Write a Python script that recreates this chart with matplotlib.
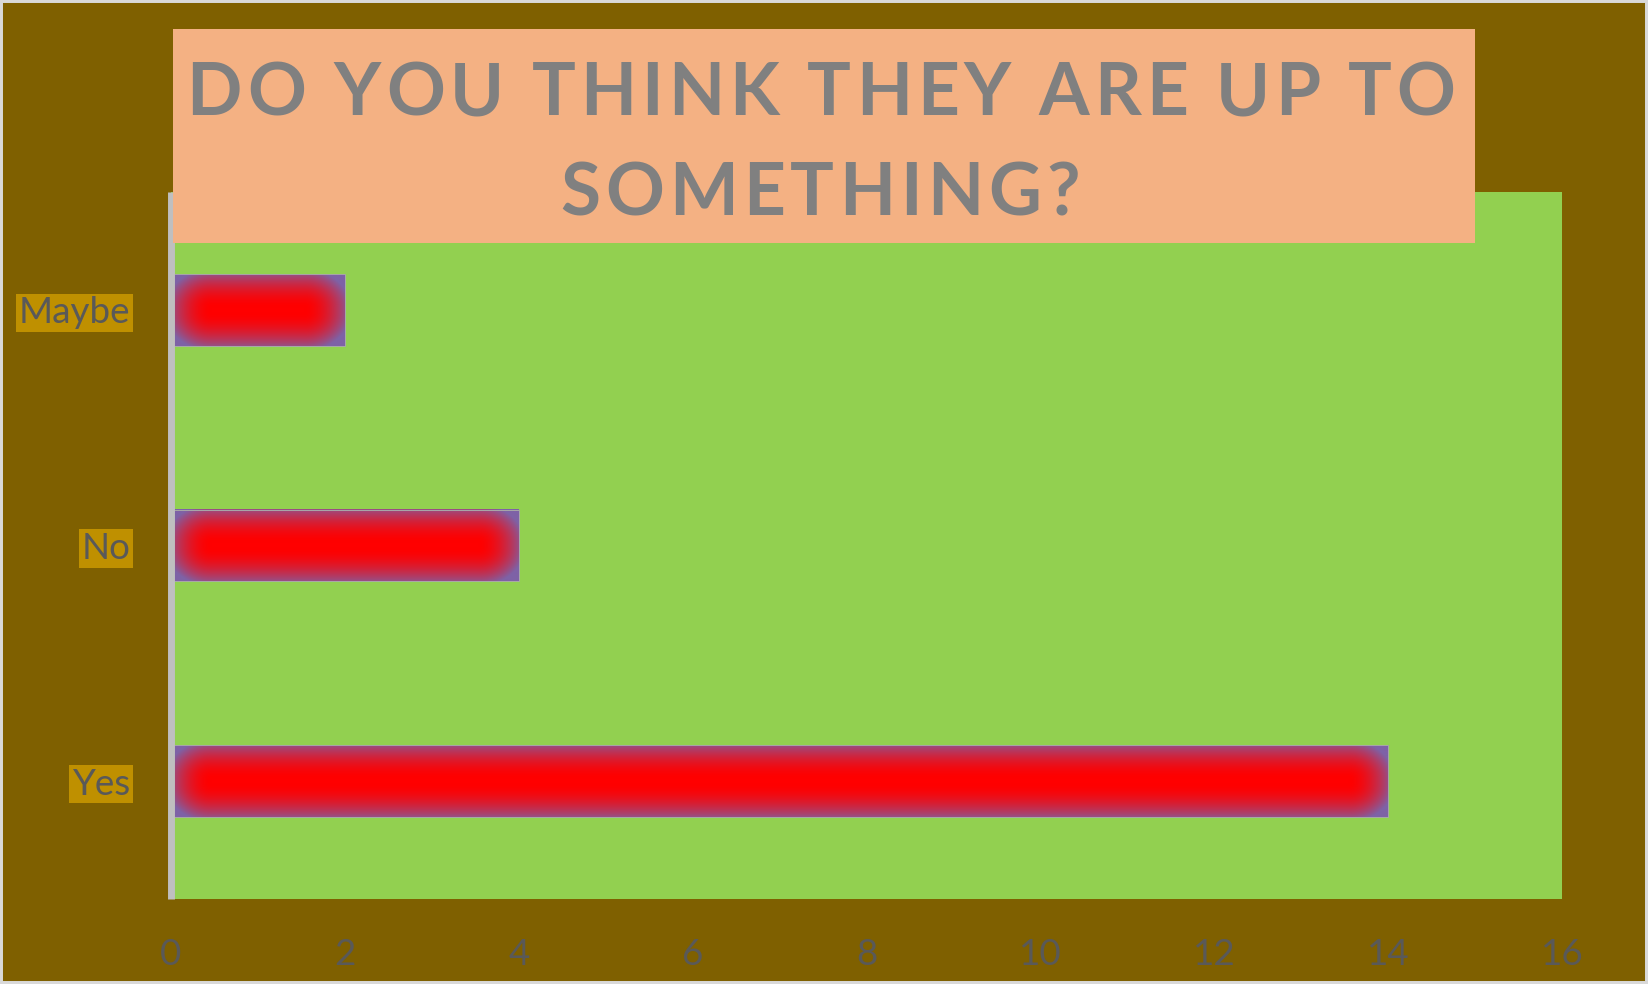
"""
Horizontal bar chart: "Do you think they are up to something?"

Output: out.png (1648x984)
"""
import numpy as np
import matplotlib
matplotlib.use("Agg")
import matplotlib.pyplot as plt
from matplotlib.patches import Rectangle
from matplotlib.font_manager import FontProperties
from matplotlib.colors import to_rgb

# data
categories = ["Yes", "No", "Maybe"]
counts = [14, 4, 2]
x_ticks = list(range(0, 17, 2))
title_lines = ["DO YOU THINK THEY ARE UP TO", "SOMETHING?"]

W, H, DPI = 1648, 984, 100
BG = "#7F6000"
PLOT_BG = "#92D050"
TITLE_BG = "#F4B183"
LABEL_BG = "#BF9000"
TEXT = "#595959"
TITLE_C = "#808080"
BAR_MID = np.array(to_rgb("#FF0000"))
BAR_EDGE = np.array(to_rgb("#7E62A6"))

plt.rcParams["font.family"] = ["Lato", "DejaVu Sans"]


def soft_bar(ax, patch, glow_x=40, glow_y=33):
    """Fill a bar patch with a red core fading to purple at the edges."""
    x0, y0 = patch.get_x(), patch.get_y()
    x1, y1 = x0 + patch.get_width(), y0 + patch.get_height()
    (px0, py0), (px1, py1) = ax.transData.transform([(x0, y0), (x1, y1)])
    nc, nr = max(int(px1 - px0), 2), max(int(py1 - py0), 2)
    cx = np.arange(nc) + 0.5
    cy = np.arange(nr) + 0.5
    ux = 1 - np.clip(np.minimum(cx, nc - cx) / glow_x, 0, 1)
    uy = 1 - np.clip(np.minimum(cy, nr - cy) / glow_y, 0, 1)
    r = np.sqrt(ux[None, :] ** 2 + uy[:, None] ** 2) / np.sqrt(2) * 1.25
    p = np.clip(r, 0, 1) ** 1.8
    img = BAR_MID + (BAR_EDGE - BAR_MID) * p[..., None]
    ax.imshow(img, extent=(x0, x1, y0, y1), origin="lower", aspect="auto",
              interpolation="bilinear", zorder=2, clip_path=patch)


def char_widths(fig, text, prop):
    renderer = fig.canvas.get_renderer()
    base = renderer.get_text_width_height_descent("HH", prop, ismath=False)[0]
    return [renderer.get_text_width_height_descent("H" + ch + "H", prop, ismath=False)[0] - base
            for ch in text]


def tracked_text(fig, text, xc, y_base, prop, track):
    """Draw text centred at xc (px) with extra letter spacing (px)."""
    widths = char_widths(fig, text, prop)
    total = sum(widths) + track * (len(text) - 1)
    x = xc - total / 2
    for ch, wch in zip(text, widths):
        fig.text(x / W, 1 - y_base / H, ch, fontproperties=prop, color=TITLE_C,
                 ha="left", va="baseline", zorder=6)
        x += wch + track


fig = plt.figure(figsize=(W / DPI, H / DPI), dpi=DPI, facecolor=BG)
ax = fig.add_axes([171 / W, 1 - 899 / H, (1562 - 171) / W, (899 - 192) / H])
ax.set_facecolor(PLOT_BG)

bars = ax.barh(categories, counts, height=0.305, color="none",
               edgecolor="#A8A8A8", linewidth=0.7, zorder=3)
ax.set_xlim(0, 16)
ax.set_ylim(-0.5, 2.5)
for p in bars.patches:
    soft_bar(ax, p)
ax.set_xlim(0, 16)
ax.set_ylim(-0.5, 2.5)

ax.set_xticks(x_ticks)
for s in ["top", "right", "bottom"]:
    ax.spines[s].set_visible(False)
ax.spines["left"].set_color("#BFBFBF")
ax.spines["left"].set_linewidth(5)
ax.spines["left"].set_capstyle("butt")
ax.spines["left"].set_zorder(4)

ax.tick_params(axis="y", length=0, pad=29.5, labelsize=26.5, labelcolor=TEXT)
ax.tick_params(axis="x", length=0, pad=28, labelsize=26.5, labelcolor=TEXT)
for lbl in ax.get_yticklabels():
    lbl.set_bbox(dict(boxstyle="square,pad=0.07", fc=LABEL_BG, ec="none"))

# title box
fig.patches.append(Rectangle((173 / W, 1 - 243 / H), (1475 - 173) / W, (243 - 29) / H,
                             transform=fig.transFigure, fc=TITLE_BG, ec="none", zorder=5))
# letter spacing chosen so the first line spans the box like the original
title_prop = FontProperties(family="Lato", weight="bold", size=52.5)
raw = sum(char_widths(fig, title_lines[0], title_prop))
track = (1269 - raw) / (len(title_lines[0]) - 1)
tracked_text(fig, title_lines[0], 821, 115, title_prop, track)
tracked_text(fig, title_lines[1], 820, 215, title_prop, track)

# thin light frame round the chart
fig.patches.append(Rectangle((0, 0), 1, 1, transform=fig.transFigure, fill=False,
                             ec="#D9D9D9", lw=4.3, zorder=10))

fig.savefig("out.png", dpi=DPI, facecolor=BG)
